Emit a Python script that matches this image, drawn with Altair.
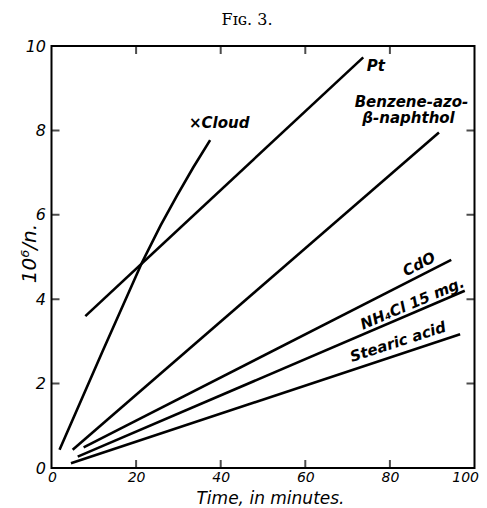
import altair as alt
import pandas as pd

# ---- data ----
cloud_x = [1.9, 12.0, 21.4, 25.8, 29.7, 33.5, 37.5]
cloud_y = [0.43, 2.75, 4.87, 5.75, 6.46, 7.12, 7.77]
pt_x = [8.0, 73.7]
pt_y = [3.6, 9.73]
benz_x = [5.0, 91.6]
benz_y = [0.43, 7.95]
cdo_x = [7.6, 94.5]
cdo_y = [0.49, 4.93]
nh4_x = [6.2, 97.7]
nh4_y = [0.27, 4.2]
stear_x = [4.6, 96.6]
stear_y = [0.11, 3.17]

series = {
    "Cloud": (cloud_x, cloud_y),
    "Pt": (pt_x, pt_y),
    "Benzene-azo-β-naphthol": (benz_x, benz_y),
    "CdO": (cdo_x, cdo_y),
    "NH4Cl 15 mg.": (nh4_x, nh4_y),
    "Stearic acid": (stear_x, stear_y),
}

label_text = ["×Cloud", "Pt", "Benzene-azo-", "β-naphthol", "CdO", "NH₄Cl 15 mg.", "Stearic acid"]
label_x = [32.5, 74.5, 85.1, 84.4, 86.9, 85.3, 81.9]
label_y = [8.17, 9.52, 8.68, 8.29, 4.83, 3.9, 2.99]
label_angle = [0, 0, 0, 0, 333, 337, 342]
label_align = ["left", "left", "center", "center", "center", "center", "center"]

x_ticks = [0, 20, 40, 60, 80, 100]
y_ticks = [0, 2, 4, 6, 8, 10]
inner_x_ticks = [20, 40, 60, 80]
inner_y_ticks = [2, 4, 6, 8]

# ---- tables ----
rows = []
for name, (xs, ys) in series.items():
    for i, (a, b) in enumerate(zip(xs, ys)):
        rows.append({"series": name, "t": a, "v": b, "order": i})
lines_df = pd.DataFrame(rows)

labels_df = pd.DataFrame({"text": label_text, "t": label_x, "v": label_y,
                          "angle": label_angle, "align": label_align})

xt_df = pd.DataFrame([{"t": t, "v": v} for t in inner_x_ticks for v in (0, 10)])
yt_df = pd.DataFrame([{"t": t, "v": v} for v in inner_y_ticks for t in (0, 100)])

xscale = alt.Scale(domain=[0, 100], nice=False, zero=False)
yscale = alt.Scale(domain=[0, 10], nice=False, zero=False)

xaxis = alt.Axis(values=x_ticks, ticks=False, domain=False, grid=False,
                 labelFont="DejaVu Sans", labelFontStyle="italic", labelFontSize=14,
                 labelColor="black", labelPadding=2, labelFlush=True, labelFlushOffset=4,
                 titleFont="DejaVu Sans", titleFontStyle="italic", titleFontWeight="normal",
                 titleFontSize=17, titleColor="black", titleX=218.5, titleY=35,
                 titleBaseline="alphabetic")
yaxis = alt.Axis(values=y_ticks, ticks=False, domain=False, grid=False,
                 labelFont="DejaVu Sans", labelFontStyle="italic", labelFontSize=16,
                 labelColor="black", labelPadding=6, labelFlush=False,
                 titleFont="DejaVu Sans", titleFontStyle="italic", titleFontWeight="normal",
                 titleFontSize=20, titleColor="black", titleX=-16, titleY=207,
                 titleAngle=270, titleBaseline="alphabetic")

def xenc():
    return alt.X("t:Q", scale=xscale, title="Time, in minutes.", axis=xaxis)

def yenc():
    return alt.Y("v:Q", scale=yscale, title="10⁶/n.", axis=yaxis)

lines = alt.Chart(lines_df).mark_line(color="black", strokeWidth=2.6, strokeCap="butt").encode(
    x=xenc(), y=yenc(), detail="series:N", order="order:Q",
)

xticks = alt.Chart(xt_df).mark_tick(color="black", orient="vertical", size=16,
                                    thickness=2, clip=True).encode(x=xenc(), y=yenc())
yticks = alt.Chart(yt_df).mark_tick(color="black", orient="horizontal", size=16,
                                    thickness=2, clip=True).encode(x=xenc(), y=yenc())

def label_layer(align):
    return alt.Chart(labels_df).transform_filter(
        alt.datum.align == align
    ).mark_text(font="DejaVu Sans", fontStyle="italic", fontWeight="bold", fontSize=15,
                color="black", baseline="middle", align=align).encode(
        x=xenc(), y=yenc(),
        text="text:N",
        angle=alt.Angle("angle:Q", scale=None),
    )

chart = alt.layer(lines, xticks, yticks, label_layer("left"), label_layer("center")).properties(
    width=423, height=422,
    background="white",
    title=alt.TitleParams("Fɪɢ. 3.", font="DejaVu Serif", fontSize=16, fontWeight="normal",
                          color="black", anchor="middle", dx=-16, dy=10, offset=7,
                          baseline="alphabetic"),
    padding={"left": 43.5, "top": 38, "right": 4.5, "bottom": 40},
    autosize=alt.AutoSizeParams(type="none"),
).configure_view(stroke="black", strokeWidth=2)

chart.save("out.html", embed_options={"renderer": "svg", "actions": False})
